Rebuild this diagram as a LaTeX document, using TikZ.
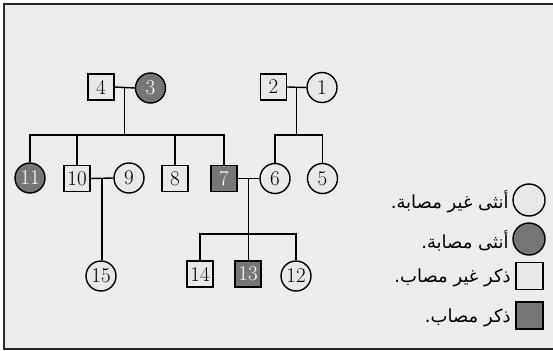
\documentclass[tikz,border=0pt]{standalone}
\usepackage{fontspec}
\usetikzlibrary{calc}
\newfontfamily\arabicfont[Script=Arabic]{DejaVu Sans}
\TeXXeTstate=1
\definecolor{bgc}{RGB}{236,236,236}
\definecolor{unf}{RGB}{232,232,232}
\definecolor{aff}{RGB}{118,118,118}
\definecolor{frame}{RGB}{40,40,40}
\begin{document}
\begin{tikzpicture}[x=1pt,y=-1pt,line width=1.4pt,
  sq/.style={draw,rectangle,minimum size=26pt,inner sep=0pt,fill=unf,font=\fontsize{21}{21}\selectfont},
  ci/.style={draw,circle,minimum size=30pt,inner sep=0pt,fill=unf,font=\fontsize{21}{21}\selectfont},
  affsq/.style={sq,fill=aff,text=white},
  affci/.style={ci,fill=aff,text=white},
  lgci/.style={ci,minimum size=32pt},
  lgaffci/.style={affci,minimum size=32pt},
  lgsq/.style={sq,minimum size=27pt},
  lgaffsq/.style={affsq,minimum size=27pt},
  lgtext/.style={anchor=east,inner sep=0pt,font=\arabicfont\fontsize{18}{18}\selectfont}]
\useasboundingbox (0,0) rectangle (553,350);
\fill[white] (0,0) rectangle (553,350);
\fill[bgc] (4,4) rectangle (553,349);
\draw[frame,line width=1.5pt] (553,4) -- (4,4) -- (4,349) -- (553,349);
% generation I
\node[sq]    (n4) at (101,87) {4};
\node[affci] (n3) at (150.5,88) {3};
\node[sq]    (n2) at (273.5,87) {2};
\node[ci]    (n1) at (322,87.5) {1};
% generation II
\node[affci] (n11) at (30,178) {11};
\node[sq]    (n10) at (77,178.5) {10};
\node[ci]    (n9)  at (129,178) {9};
\node[sq]    (n8)  at (175,178.5) {8};
\node[affsq] (n7)  at (224,178.5) {7};
\node[ci]    (n6)  at (275,178.5) {6};
\node[ci]    (n5)  at (322.5,178.5) {5};
% generation III
\node[ci]    (n15) at (101,276) {15};
\node[sq]    (n14) at (200,274) {14};
\node[affsq] (n13) at (248,274) {13};
\node[ci]    (n12) at (296,276) {12};
% marriages
\coordinate (m43) at ($(n4.east)!0.5!(n3.west)$);
\coordinate (m21) at ($(n2.east)!0.5!(n1.west)$);
\coordinate (m109) at ($(n10.east)!0.5!(n9.west)$);
\coordinate (m76) at ($(n7.east)!0.5!(n6.west)$);
\coordinate (s1) at (0,135);
\coordinate (s2) at (0,234);
\draw (n4.east) -- (n3.west);
\draw (n2.east) -- (n1.west);
\draw (n10.east) -- (n9.west);
\draw (n7.east) -- (n6.west);
% descent 4-3
\draw (m43) -- (m43 |- s1);
\draw (n11.north) -- (n11.north |- s1) -- (n7.north |- s1) -- (n7.north);
\draw (n10.north) -- (n10.north |- s1);
\draw (n8.north) -- (n8.north |- s1);
% descent 2-1
\draw (m21) -- (m21 |- s1);
\draw (n6.north) -- (n6.north |- s1) -- (n5.north |- s1) -- (n5.north);
% descent 10-9
\draw (m109) -- (m109 |- n15.north);
% descent 7-6
\draw (m76) -- (m76 |- n13.north);
\draw (n14.north) -- (n14.north |- s2) -- (n12.north |- s2) -- (n12.north);
% legend
\node[lgci]    (l1) at (529,200) {};
\node[lgaffci] (l2) at (529,239) {};
\node[lgsq]    (l3) at (529.5,276) {};
\node[lgaffsq] (l4) at (529.5,315.5) {};
\node[lgtext] (t1) at ([xshift=-3pt,yshift=-2pt]l1.west) {\beginR أنثى غير مصابة.\endR};
\node[lgtext] (t2) at ([xshift=-3pt,yshift=-2pt]l2.west) {\beginR أنثى مصابة.\endR};
\node[lgtext] (t3) at ([xshift=-4pt,yshift=-2pt]l3.west) {\beginR ذكر غير مصاب.\endR};
\node[lgtext] (t4) at ([xshift=-4pt,yshift=-2pt]l4.west) {\beginR ذكر مصاب.\endR};
\end{tikzpicture}
\end{document}
